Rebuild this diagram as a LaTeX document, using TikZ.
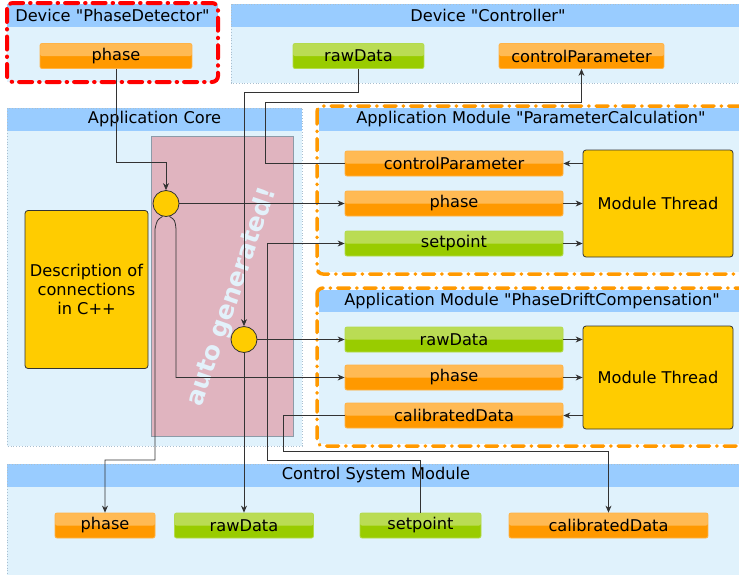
\documentclass[tikz,border=0pt]{standalone}
\usepackage{fontspec}
\setmainfont{DejaVu Sans}[Ligatures=TeXOff]
\usetikzlibrary{arrows.meta}
\definecolor{hdr}{HTML}{99CCFF}
\definecolor{bodyc}{HTML}{E0F2FC}
\definecolor{orangeC}{HTML}{FF9900}
\definecolor{orangeB}{HTML}{FFB347}
\definecolor{greenC}{HTML}{99CC00}
\definecolor{greenB}{HTML}{B3DB4D}
\definecolor{yel}{HTML}{FFCC00}
\definecolor{pinkc}{HTML}{E0B4BF}
\definecolor{pinkb}{HTML}{8C9BA8}
\definecolor{linec}{HTML}{333333}
\definecolor{dotc}{HTML}{A9BFD0}
\definecolor{redd}{HTML}{FF0000}
\definecolor{autoc}{HTML}{E3F1FA}
\tikzset{
  port/.style={rounded corners=2pt, minimum height=25pt, inner sep=0pt, text=black,
    path picture={
      \fill[#1] (path picture bounding box.south west) rectangle (path picture bounding box.north east);
      \fill[white, opacity=0.33] (path picture bounding box.north west) rectangle (path picture bounding box.east);
    }},
  oport/.style={port=orangeC, draw=orangeB, line width=0.8pt},
  gport/.style={port=greenC, draw=greenB, line width=0.8pt},
  ybox/.style={fill=yel, draw=linec, rounded corners=3pt, line width=0.8pt, align=center, inner sep=0pt},
  junc/.style={circle, fill=yel, draw=linec, line width=0.8pt, minimum size=26pt, inner sep=0pt},
  conn/.style={draw=linec, line width=0.8pt},
  arr/.style={conn, -{Stealth[length=7pt,width=6pt]}},
  ttl/.style={inner sep=0pt, text=black},
  dotbox/.style={draw=dotc, dotted, line width=0.8pt},
  reddash/.style={draw=redd, line width=4pt, line cap=round, rounded corners=6pt, dash pattern=on 13pt off 7pt on 0.5pt off 7pt},
  ordash/.style={draw=orangeC, line width=3.5pt, line cap=round, rounded corners=6pt, dash pattern=on 12pt off 7pt on 0.5pt off 7pt},
}
\begin{document}
\begin{tikzpicture}[x=1pt, y=-1pt, font=\fontsize{16.2}{19}\selectfont]
\useasboundingbox (0,0) rectangle (739,574);
\clip (0,0) rectangle (739,574);
\fill[white] (0,0) rectangle (739,574);

% Device PhaseDetector
\fill[bodyc] (7,4) rectangle (218,82);
\fill[hdr] (7,4) rectangle (218,27);
\draw[reddash] (7,3) rectangle (218,82);
\node[ttl] (tpd) at (112.5,15.5) {Device "PhaseDetector"};

% Device Controller
\fill[bodyc] (231,4) rectangle (745,83);
\fill[hdr] (231,4) rectangle (745,27);
\draw[dotbox] (231,4) rectangle (745,83);
\node[ttl] (tct) at (488,15.5) {Device "Controller"};

% Application Core
\fill[bodyc] (7,108) rectangle (302,446);
\fill[hdr] (7,108) rectangle (302,131);
\draw[dotbox] (7,108) rectangle (302,446);
\node[ttl] (tac) at (154.5,119.5) {Application Core};
\fill[pinkc, draw=pinkb, line width=0.8pt] (151,136) rectangle (293,436);
\node[rotate=71, text=autoc, font=\bfseries\fontsize{25}{25}\selectfont] (auto) at (232,297) {auto generated!};
\node[ybox, minimum width=123pt, minimum height=158pt] (desc) at (86.5,289.5) {Description of\\connections\\in C++};

% Module ParameterCalculation
\fill[bodyc] (319,108) rectangle (745,272);
\fill[hdr] (319,108) rectangle (745,131);
\draw[ordash] (317,106) rectangle (752,274);
\node[ttl] (tpc) at (531,119.5) {Application Module "ParameterCalculation"};

% Module PhaseDriftCompensation
\fill[bodyc] (319,290) rectangle (745,444);
\fill[hdr] (319,290) rectangle (745,312);
\draw[ordash] (317,288) rectangle (752,446);
\node[ttl] (tpdc) at (532,301) {Application Module "PhaseDriftCompensation"};

% Control System Module
\fill[bodyc] (7,464) rectangle (745,580);
\fill[hdr] (7,464) rectangle (745,487);
\draw[dotbox] (7,464) rectangle (745,580);
\node[ttl] (tcsm) at (376,475.5) {Control System Module};

% ports
\node[oport, minimum width=152pt] (pdphase) at (116,56) {phase};
\node[gport, minimum width=131pt] (ctraw) at (358.5,56) {rawData};
\node[oport, minimum width=165pt] (ctcp) at (581.5,56) {controlParameter};

\node[oport, minimum width=218pt] (pccp) at (454,163.5) {controlParameter};
\node[oport, minimum width=218pt] (pcphase) at (454,203.5) {phase};
\node[gport, minimum width=218pt] (pcsp) at (454,243.5) {setpoint};
\node[ybox, minimum width=150pt, minimum height=107pt] (pcmt) at (658,203.5) {Module Thread};

\node[gport, minimum width=218pt] (pdcraw) at (454,339.5) {rawData};
\node[oport, minimum width=218pt] (pdcphase) at (454,377.5) {phase};
\node[oport, minimum width=218pt] (pdccal) at (454,415.5) {calibratedData};
\node[ybox, minimum width=150pt, minimum height=103pt] (pdcmt) at (658,377.5) {Module Thread};

\node[oport, minimum width=100pt] (csmphase) at (105,525.5) {phase};
\node[gport, minimum width=139pt] (csmraw) at (244,525.5) {rawData};
\node[gport, minimum width=121pt] (csmsp) at (420.5,525.5) {setpoint};
\node[oport, minimum width=199pt] (csmcal) at (608.5,525.5) {calibratedData};

% junctions
\node[junc] (ca) at (166,203.5) {};
\node[junc] (cb) at (244,339.5) {};

% connectors
\draw[arr] (pdphase.south) |- (166,162) -- (ca.north);
\draw[arr] (ca.east) -- (pcphase.west);
\draw[arr] (ca.255) .. controls (157,220) .. (155,229) |- (105,460) -- (csmphase.north);
\draw[arr] (ca.285) .. controls (175,220) .. (176,229) |- (pdcphase.west);
\draw[arr] (ctraw.south) |- (244,92) -- (cb.north);
\draw[arr] (cb.east) -- (pdcraw.west);
\draw[arr] (cb.south) -- (csmraw.north);
\draw[arr] (pccp.west) -| (265,102) -| (ctcp.south);
\draw[arr] (csmsp.north) |- (267,460) |- (pcsp.west);
\draw[arr] (pdccal.west) -| (283,451) -| (csmcal.north);

\draw[arr] (pcmt.west |- pccp.east) -- (pccp.east);
\draw[arr] (pcphase.east) -- (pcphase.east -| pcmt.west);
\draw[arr] (pcsp.east) -- (pcsp.east -| pcmt.west);
\draw[arr] (pdcraw.east) -- (pdcraw.east -| pdcmt.west);
\draw[arr] (pdcphase.east) -- (pdcphase.east -| pdcmt.west);
\draw[arr] (pdcmt.west |- pdccal.east) -- (pdccal.east);
\end{tikzpicture}
\end{document}
